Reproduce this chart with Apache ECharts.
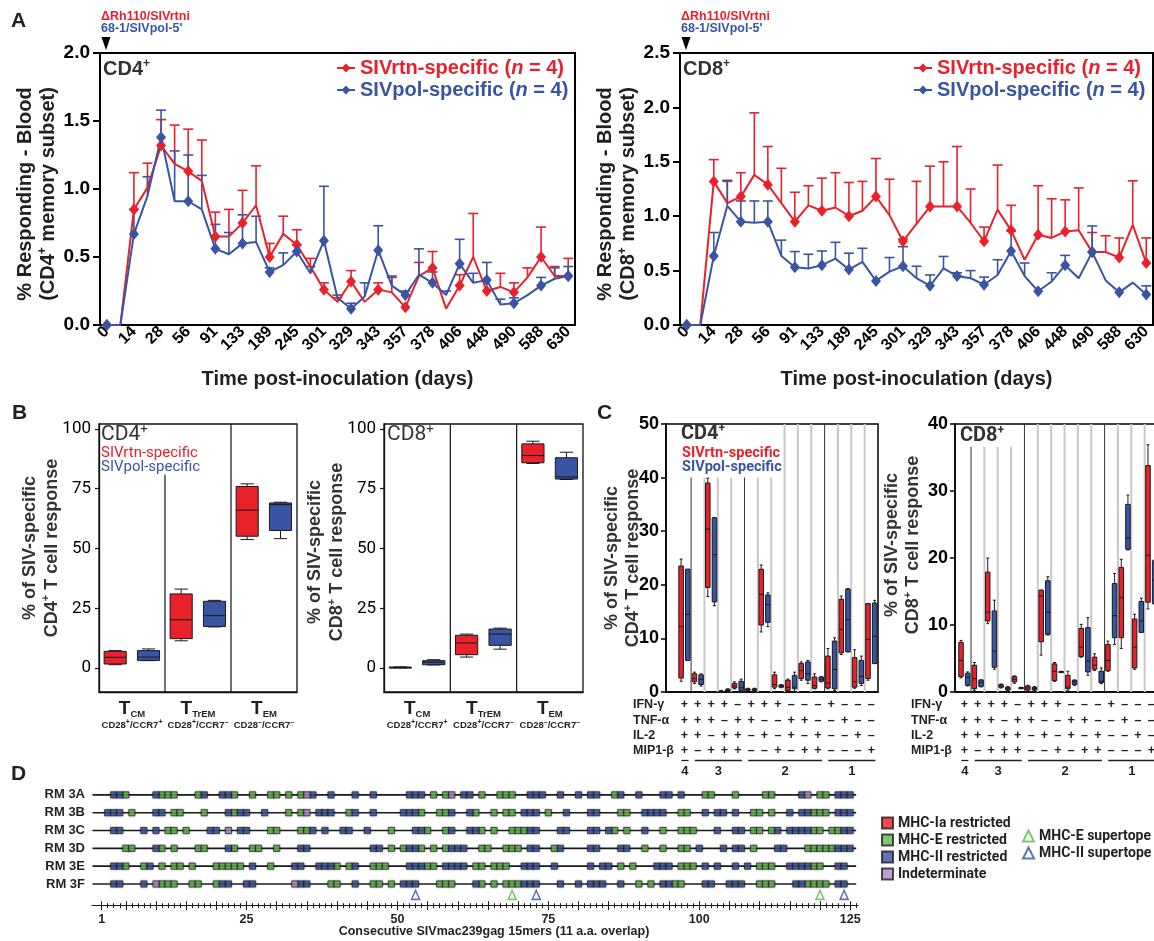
<!DOCTYPE html>
<html><head><meta charset="utf-8">
<script src="https://cdn.jsdelivr.net/npm/echarts@6/dist/echarts.min.js"></script>
<style>html,body{margin:0;padding:0;background:#fff}#c{width:1154px;height:941px}</style>
</head><body><div id="c"></div>
<script>
// ================= DATA =================
// Panel A
const daysA = ['0','7','14','21','28','42','56','70','91','112','133','161','189','217','245','273','301','315','329','336','343','350','357','364','378','392','406','427','448','469','490','539','588','609','630'];
const cd4Rtn   = [0,0,0.85,1.01,1.32,1.185,1.13,1.06,0.65,0.65,0.75,0.88,0.50,0.67,0.59,0.43,0.26,0.17,0.32,0.17,0.26,0.24,0.13,0.36,0.42,0.12,0.29,0.50,0.25,0.28,0.24,0.35,0.50,0.36,0.36];
const cd4RtnUp = [0,0,1.12,1.19,1.51,1.47,1.44,1.36,0.83,0.85,0.99,1.17,0.60,0.80,0.70,0.49,0.31,0.20,0.40,0.17,0.31,0.35,0.13,0.46,0.54,0.12,0.37,0.82,0.25,0.38,0.31,0.42,0.72,0.43,0.49];
const cd4Pol   = [0,0,0.67,0.95,1.38,0.91,0.91,0.85,0.56,0.52,0.60,0.61,0.39,0.44,0.54,0.38,0.62,0.20,0.12,0.21,0.55,0.29,0.22,0.37,0.31,0.22,0.45,0.31,0.33,0.15,0.16,0.22,0.29,0.34,0.36];
const cd4PolUp = [0,0,0.85,1.09,1.58,1.28,1.25,1.10,0.74,0.68,0.81,0.80,0.42,0.53,0.59,0.43,1.02,0.22,0.16,0.31,0.73,0.36,0.25,0.56,0.39,0.25,0.63,0.38,0.46,0.19,0.20,0.22,0.35,0.42,0.43];
const cd8Rtn   = [0,0,1.32,1.12,1.18,1.38,1.29,1.12,0.95,1.10,1.05,1.08,1.00,1.05,1.18,1.01,0.77,0.93,1.09,1.09,1.09,0.94,0.77,1.06,0.87,0.60,0.83,0.80,0.86,0.87,0.67,0.67,0.62,0.92,0.57];
const cd8RtnUp = [0,0,1.52,1.32,1.40,1.95,1.64,1.44,1.22,1.28,1.35,1.40,1.31,1.32,1.53,1.34,0.79,1.32,1.46,1.50,1.64,1.25,0.90,1.47,1.10,0.60,1.28,1.16,1.15,1.26,0.85,0.82,0.80,1.325,0.80];
const cd8Pol   = [0,0,0.635,1.095,0.95,0.94,0.95,0.635,0.53,0.52,0.55,0.61,0.51,0.58,0.405,0.49,0.54,0.43,0.36,0.52,0.45,0.43,0.37,0.46,0.68,0.45,0.31,0.40,0.55,0.43,0.67,0.41,0.30,0.39,0.28];
const cd8PolUp = [0,0,0.85,1.33,1.14,1.14,1.14,0.78,0.675,0.65,0.68,0.76,0.66,0.705,0.405,0.62,0.72,0.54,0.46,0.63,0.48,0.50,0.44,0.60,0.865,0.57,0.31,0.48,0.64,0.43,0.91,0.41,0.30,0.39,0.36];
const nAnimals = 4;

// Panel B  [low, q1, median, q3, high]
const subsetsB = ['CM','TrEM','EM'];
const phenoB = ['CD28+/CCR7+','CD28+/CCR7–','CD28–/CCR7–'];
const bTicks = [0,25,50,75,100];
const bCd4Rtn = [[1.4,1.7,4.5,7.0,7.3],[11.4,12.3,20.2,31,33],[53.7,55.1,66,75.9,77]];
const bCd4Pol = [[3.1,3.2,4.6,7.3,8.0],[17.2,17.4,21.9,27.9,28.3],[54.1,57.5,68.3,69,69.3]];
const bCd8Rtn = [[0.1,0.2,0.3,0.4,0.5],[4.6,5.6,10.5,13.7,14.2],[85.5,85.8,88.8,93.7,94.8]];
const bCd8Pol = [[1.3,1.4,2.4,3.1,3.5],[7.9,9.5,14.2,16.3,16.7],[78.8,79,79.9,87.9,90.2]];

// Panel C
const cytoNames = ['IFN-γ','TNF-α','IL-2','MIP1-β'];
const ifnRow = ['+','+','+','+','–','+','+','+','–','–','–','+','–','–','–'];
const tnfRow = ['+','+','+','–','+','+','–','–','+','+','–','–','+','–','–'];
const il2Row = ['+','+','–','+','+','–','+','–','+','–','+','–','–','+','–'];
const mipRow = ['+','–','+','+','+','–','–','+','–','+','+','–','–','–','+'];
const groupLabels = ['4','3','2','1'];
const groupFrom = [0,1,5,11];
const groupTo = [0,4,10,14];
const cCd4Rtn = [[2.0,2.6,12.2,23.5,24.8],[1.6,1.9,2.5,3.4,3.7],[17.8,19.5,30.4,39.0,39.9],[0,0,0.1,0.2,0.3],[0.6,0.75,1.1,1.6,1.9],[0.2,0.3,0.4,0.6,0.7],[11.2,12.5,18.2,22.9,23.7],[0.6,0.9,1.4,3.2,3.7],[0,0.3,0.9,2.2,2.4],[2.2,2.5,4.0,5.3,5.6],[0.6,0.7,1.2,2.8,3.4],[0.6,0.75,1.7,6.7,8.1],[7.0,7.3,11.7,17.3,17.9],[0.7,0.9,1.9,6.4,7.9],[2.2,2.5,9.8,16.5,16.5]];
const cCd4Pol = [[5.9,5.9,14.5,22.9,22.9],[1.1,1.4,2.4,3.2,3.4],[16.1,16.8,25.6,32.5,32.5],[0.1,0.1,0.3,0.5,0.6],[0.1,0.3,0.8,2.0,2.4],[0.2,0.3,0.4,0.6,0.7],[12.2,13.0,16.3,18.1,18.5],[0.8,0.9,1.1,1.3,1.4],[0.1,0.6,0.9,3.1,3.7],[1.6,2.2,3.4,5.6,5.9],[1.9,2.0,2.4,2.8,2.9],[0.3,0.6,4.2,9.5,10.1],[7.5,7.5,13.5,19.2,19.3],[1.2,1.6,2.9,5.9,6.7],[5.3,5.3,10.4,16.6,17.1]];
const cCd8Rtn = [[2.1,2.3,4.7,7.4,7.7],[0.25,0.5,2.0,4.0,4.4],[10.2,10.6,11.9,17.9,20.0],[0.6,0.7,0.9,1.1,1.2],[1.3,1.5,1.9,2.3,2.4],[0.2,0.3,0.6,0.9,1.0],[5.5,7.5,14.3,15.2,15.2],[1.6,1.7,3.1,4.2,4.4],[0.25,0.5,0.75,2.5,3.1],[5.2,5.3,6.7,9.5,10.1],[3.2,3.4,4.0,5.2,5.7],[3.1,3.2,4.7,7.1,7.6],[6.5,8.1,14.1,18.6,19.8],[3.4,3.6,6.7,10.9,11.6],[12.4,13.4,20.4,33.8,36.9]];
const cCd8Pol = [[0.9,1.0,2.2,2.8,3.0],[0.75,0.85,1.4,1.8,1.8],[3.4,3.7,6.1,12.1,13.7],[0.2,0.3,0.5,0.7,0.8],[0.5,0.55,0.6,0.65,0.7],[0.2,0.3,0.5,0.7,0.8],[8.5,8.6,11.9,16.6,17.2],[2.9,2.95,3.0,3.05,3.1],[1.0,1.1,1.5,1.75,1.8],[2.5,3.0,4.6,9.6,11.1],[1.25,1.4,1.6,3.1,3.6],[7.1,8.1,11.4,16.2,17.7],[21.2,21.3,23.0,28.0,29.4],[8.9,8.9,10.6,13.5,14.0],[13.1,13.2,16.7,19.6,19.7]];

// Panel D  (peptide numbers per row and restriction)
const rmRows = ['RM 3A','RM 3B','RM 3C','RM 3D','RM 3E','RM 3F'];
const RM3A_II = [3,4,10,18,21,22,36,39,43,46,52,53,54,61,62,72,73,74,77,80,82,83,87,90,94,95,97,117,123,124,125];
const RM3A_E = [5,11,12,13,17,23,26,29,30,32,34,56,58,64,67,68,69,86,101,102,106,111,112,120,121];
const RM3A_IND = [35,59,118];
const RM3B_II = [2,3,4,10,11,22,24,25,28,37,38,39,43,46,51,52,53,59,62,71,72,73,78,82,83,91,92,93,94,101,103,104,106,115,117,118,123,124,125];
const RM3B_E = [6,13,14,18,23,32,34,42,54,57,58,63,66,68,69,75,87,88,97,98,109,110,112,119,120,121];
const RM3B_IND = [35];
const RM3C_II = [3,4,8,10,19,20,24,25,36,38,41,42,45,53,54,59,62,63,72,73,77,78,82,83,85,91,103,106,107,113,115,116,117,118,124,125];
const RM3C_E = [12,13,15,29,30,34,35,49,55,58,64,66,69,70,71,86,88,94,97,98,99,109,110,112,119,120,122,123];
const RM3C_IND = [22];
const RM3D_II = [10,22,34,35,46,47,52,53,59,60,61,72,73,77,82,83,87,88,100,104,106,107,113,114,123,124,125];
const RM3D_E = [5,6,11,13,17,18,23,26,27,30,49,51,54,56,58,64,65,68,69,70,76,91,94,97,98,109,118,119,120,121,122];
const RM3D_IND = [];
const RM3E_II = [3,4,9,26,33,34,37,38,39,43,52,53,54,58,59,60,61,71,72,73,76,82,84,85,93,94,95,101,103,106,108,115,116,117,118,123,124];
const RM3E_E = [5,8,11,13,14,16,20,21,22,23,24,29,40,42,46,47,48,55,56,63,64,66,67,68,87,89,97,98,99,110,111,112,119,120];
const RM3E_IND = [];
const RM3F_II = [3,4,8,21,22,25,26,34,35,43,51,52,53,63,71,72,73,77,80,82,83,84,87,94,95,101,102,105,106,107,116,117,123,124];
const RM3F_E = [11,12,13,16,17,20,39,40,46,47,49,57,58,59,64,66,68,69,70,90,92,96,97,110,111,112,118,119,120,121];
const RM3F_IND = [10,33];
const superE = [69,120];
const superII = [53,73,124];
const dLabelTicks = [1,25,50,75,100,125];

// ================= STYLE =================
const RED = '#e8212b', BLUE = '#3a54a4';
const DGREEN = '#5cba47', DBLUE = '#3a52a2', DPURPLE = '#ae8ac6', DRED = '#ec1c24';
const INK = '#231f20';
const FA = "'Liberation Sans', Arial, Helvetica, sans-serif";
const FR = "Roboto, 'Liberation Sans', sans-serif";

// ================= HELPERS =================
function errRender(color) {
  return function (params, api) {
    const i = api.value(0), v = api.value(1), u = api.value(2);
    if (!(u > v + 0.005)) return null;
    const p = api.coord([i, v]), q = api.coord([i, u]);
    const st = {stroke: color, lineWidth: 1.6};
    return {type: 'group', children: [
      {type: 'line', shape: {x1: p[0], y1: p[1], x2: q[0], y2: q[1]}, style: st},
      {type: 'line', shape: {x1: q[0] - 5, y1: q[1], x2: q[0] + 5, y2: q[1]}, style: st}
    ]};
  };
}
function boxRender(color, off, wid, cap) {
  return function (params, api) {
    const xv = api.value(0);
    const unit = api.size([1, 0], [xv, 0])[0];
    const c = api.coord([xv, api.value(3)]);
    const cx = c[0] + off * unit, w = wid * unit, cw = cap * unit;
    const y = k => api.coord([xv, api.value(k)])[1];
    const lo = y(1), q1 = y(2), md = y(3), q3 = y(4), hi = y(5);
    const ls = {stroke: '#1a1a1a', lineWidth: 1};
    return {type: 'group', children: [
      {type: 'line', shape: {x1: cx, y1: lo, x2: cx, y2: hi}, style: ls},
      {type: 'line', shape: {x1: cx - cw / 2, y1: lo, x2: cx + cw / 2, y2: lo}, style: ls},
      {type: 'line', shape: {x1: cx - cw / 2, y1: hi, x2: cx + cw / 2, y2: hi}, style: ls},
      {type: 'rect', shape: {x: cx - w / 2, y: q3, width: w, height: Math.max(q1 - q3, 1)}, style: {fill: color, stroke: '#1a1a1a', lineWidth: 1}},
      {type: 'line', shape: {x1: cx - w / 2, y1: md, x2: cx + w / 2, y2: md}, style: ls}
    ]};
  };
}
function boxSeries(data, color, off, wid, cap, ai) {
  return {type: 'custom', name: 'box' + ai + color, xAxisIndex: ai, yAxisIndex: ai, clip: false, z: 4,
    data: data.map((b, i) => [i].concat(b)), encode: {x: 0, y: [1, 2, 3, 4, 5]},
    renderItem: boxRender(color, off, wid, cap)};
}
function aLine(name, data, color, ai) {
  return {type: 'line', name, xAxisIndex: ai, yAxisIndex: ai, data, symbol: 'diamond', symbolSize: [10, 12],
    lineStyle: {color, width: 2}, itemStyle: {color}, z: 5};
}
function aErr(vals, ups, color, ai) {
  return {type: 'custom', name: 'err' + ai + color, xAxisIndex: ai, yAxisIndex: ai, clip: false, z: 4,
    data: vals.map((v, i) => [i, v, ups[i]]), encode: {x: 0, y: [1, 2]}, renderItem: errRender(color)};
}
function supRich(fs, fill, ff, fw, lh) {
  const s = Math.round(fs * 0.62);
  return {a: {fontSize: fs, fill, color: fill, fontFamily: ff, fontWeight: fw, lineHeight: lh || fs + 2},
          s: {fontSize: s, fill, color: fill, fontFamily: ff, fontWeight: fw, verticalAlign: 'top', lineHeight: s}};
}
const G = [];
function T(x, y, text, o) {
  o = o || {};
  G.push({type: 'text', x, y, rotation: o.rot || 0, silent: true, z: 50,
    style: {text, fill: o.fill || INK, fontFamily: o.ff || FA, fontWeight: o.fw || 'bold', fontSize: o.fs || 12,
      fontStyle: o.fst || 'normal', align: o.al || 'left', verticalAlign: o.va || 'middle', rich: o.rich}});
}

// ================= GRAPHIC TEXT =================
T(11, 21.5, 'A', {fs: 21}); T(12, 413, 'B', {fs: 21}); T(597, 413, 'C', {fs: 21}); T(11, 774, 'D', {fs: 21});
[[101, 106], [681, 686]].forEach(([tx, px]) => {
  T(tx, 17, 'ΔRh110/SIVrtni', {fs: 12.5, fill: RED});
  T(tx, 29, "68-1/SIVpol-5'", {fs: 12.5, fill: BLUE});
  G.push({type: 'polygon', silent: true, shape: {points: [[px - 4.5, 37], [px + 4.5, 37], [px, 50]]}, style: {fill: '#000'}});
});
T(103, 69, '{a|CD4}{s|+}', {rich: supRich(20, '#333', FA, 'bold')});
T(683, 69, '{a|CD8}{s|+}', {rich: supRich(20, '#333', FA, 'bold')});
T(36.5, 194, '{a|% Responding - Blood}\n{a|(CD4}{s|+}{a| memory subset)}', {rot: Math.PI / 2, al: 'center', rich: supRich(20, INK, FA, 'bold', 23)});
T(616.5, 194, '{a|% Responding - Blood}\n{a|(CD8}{s|+}{a| memory subset)}', {rot: Math.PI / 2, al: 'center', rich: supRich(20, INK, FA, 'bold', 23)});
// B
T(101, 434.5, '{a|CD4}{s|+}', {rich: supRich(21, '#333', FR, 'normal')});
T(101, 453, 'SIVrtn-specific', {ff: FR, fw: 'normal', fs: 15, fill: RED});
T(101, 467, 'SIVpol-specific', {ff: FR, fw: 'normal', fs: 15, fill: BLUE});
T(387, 434.5, '{a|CD8}{s|+}', {rich: supRich(21, '#333', FR, 'normal')});
T(40.7, 548, '{a|% of SIV-specific}\n{a|CD4}{s|+}{a| T cell response}', {rot: Math.PI / 2, al: 'center', rich: supRich(18, '#333', FA, 'bold', 22)});
T(326.5, 552, '{a|% of SIV-specific}\n{a|CD8}{s|+}{a| T cell response}', {rot: Math.PI / 2, al: 'center', rich: supRich(18, '#333', FA, 'bold', 22)});
// C
T(681, 434, '{a|CD4}{s|+}', {rich: supRich(20, '#333', FR, 'bold')});
T(682, 453, 'SIVrtn-specific', {ff: FR, fs: 14.5, fill: RED});
T(682, 467, 'SIVpol-specific', {ff: FR, fs: 14.5, fill: BLUE});
T(960, 436, '{a|CD8}{s|+}', {rich: supRich(20, '#333', FR, 'bold')});
T(622.5, 558, '{a|% of SIV-specific}\n{a|CD4}{s|+}{a| T cell response}', {rot: Math.PI / 2, al: 'center', rich: supRich(18, '#333', FA, 'bold', 21.6)});
T(902.5, 545, '{a|% of SIV-specific}\n{a|CD8}{s|+}{a| T cell response}', {rot: Math.PI / 2, al: 'center', rich: supRich(18, '#333', FA, 'bold', 21.6)});
const tableY = [705, 720.5, 736, 751];
cytoNames.forEach((n, r) => { T(633, tableY[r], n, {fs: 12.5}); T(911, tableY[r], n, {fs: 12.5}); });
// D
T(494, 932, 'Consecutive SIVmac239gag 15mers (11 a.a. overlap)', {fs: 12.5, al: 'center'});

// ================= SERIES =================
const series = [];
// A
series.push(aErr(cd4Rtn, cd4RtnUp, RED, 0), aErr(cd4Pol, cd4PolUp, BLUE, 0));
series.push(aLine('SIVrtn-specific', cd4Rtn, RED, 0), aLine('SIVpol-specific', cd4Pol, BLUE, 0));
series.push(aErr(cd8Rtn, cd8RtnUp, RED, 1), aErr(cd8Pol, cd8PolUp, BLUE, 1));
series.push(aLine('SIVrtn-specific', cd8Rtn, RED, 1), aLine('SIVpol-specific', cd8Pol, BLUE, 1));
// B separators
function bSep(ai, tops) {
  return {type: 'custom', name: 'sep' + ai, xAxisIndex: ai, yAxisIndex: ai, clip: false, z: 2,
    data: tops.map((t, i) => [i, t]), encode: {x: 0, y: 1},
    renderItem: (p, api) => {
      const i = api.value(0), band = api.size([1, 0])[0];
      const a = api.coord([i, api.value(1)]), b = api.coord([i, -10]);
      const x = a[0] + band / 2;
      return {type: 'line', shape: {x1: x, y1: a[1], x2: x, y2: b[1]}, style: {stroke: '#111', lineWidth: 1.2}};
    }};
}
series.push(bSep(2, [80.8, 102]), bSep(3, [102, 102]));
series.push(boxSeries(bCd4Rtn, RED, -0.255, 0.335, 0.2, 2), boxSeries(bCd4Pol, BLUE, 0.25, 0.335, 0.2, 2));
series.push(boxSeries(bCd8Rtn, RED, -0.255, 0.335, 0.2, 3), boxSeries(bCd8Pol, BLUE, 0.25, 0.335, 0.2, 3));
// C separators
const darkAfter = groupTo.slice(0, 3);
function cSep(ai, shortUpTo, shortTop, fullTop) {
  const d = [];
  for (let k = 0; k < ifnRow.length - 1; k++) d.push([k + 0.5, k <= shortUpTo ? shortTop : fullTop, darkAfter.indexOf(k) >= 0 ? 1 : 0]);
  return {type: 'custom', name: 'csep' + ai, xAxisIndex: ai, yAxisIndex: ai, clip: false, z: 2,
    data: d, encode: {x: 0, y: 1},
    renderItem: (p, api) => {
      const a = api.coord([api.value(0), api.value(1)]), b = api.coord([api.value(0), 0]);
      const dark = api.value(2) === 1;
      return {type: 'line', shape: {x1: a[0], y1: a[1], x2: b[0], y2: b[1]},
        style: {stroke: dark ? '#333' : '#c8c8c8', lineWidth: dark ? 1 : 2}};
    }};
}
series.push(cSep(4, 6, 40, 50), cSep(5, 3, 36.6, 40));
series.push(boxSeries(cCd4Rtn, RED, -0.25, 0.34, 0.22, 4), boxSeries(cCd4Pol, BLUE, 0.25, 0.34, 0.22, 4));
series.push(boxSeries(cCd8Rtn, RED, -0.25, 0.34, 0.22, 5), boxSeries(cCd8Pol, BLUE, 0.25, 0.34, 0.22, 5));
const rows = [ifnRow, tnfRow, il2Row, mipRow];
function cTable(ai) {
  return {type: 'custom', name: 'tab' + ai, xAxisIndex: ai, yAxisIndex: ai, clip: false, z: 6,
    data: ifnRow.map((_, i) => [i, 0]), encode: {x: 0, y: 1},
    renderItem: (p, api) => {
      const i = api.value(0), x = api.coord([i, 0])[0];
      return {type: 'group', children: rows.map((r, k) => ({type: 'text', x, y: tableY[k],
        style: {text: r[i], fill: INK, fontFamily: FA, fontWeight: 'bold', fontSize: 12.5, align: 'center', verticalAlign: 'middle'}}))};
    }};
}
function cGroups(ai) {
  return {type: 'custom', name: 'grp' + ai, xAxisIndex: ai, yAxisIndex: ai, clip: false, z: 6,
    data: groupLabels.map((g, gi) => [groupFrom[gi], groupTo[gi], gi]), encode: {x: [0, 1]},
    renderItem: (p, api) => {
      const a = api.coord([api.value(0), 0])[0] - 3, b = api.coord([api.value(1), 0])[0] + 4;
      return {type: 'group', children: [
        {type: 'line', shape: {x1: a, y1: 760.5, x2: b, y2: 760.5}, style: {stroke: INK, lineWidth: 1.3}},
        {type: 'text', x: (a + b) / 2, y: 771, style: {text: groupLabels[api.value(2)], fill: INK, fontFamily: FA, fontWeight: 'bold', fontSize: 13, align: 'center', verticalAlign: 'middle'}}
      ]};
    }};
}
series.push(cTable(4), cTable(5), cGroups(4), cGroups(5));
// D
series.push({type: 'custom', name: 'rowlines', xAxisIndex: 6, yAxisIndex: 6, clip: false, z: 1,
  data: rmRows.map((_, r) => [0, r]), encode: {x: 0, y: 1},
  renderItem: (p, api) => {
    const r = api.value(1), a = api.coord([-0.52, r]), b = api.coord([126.0, r]);
    return {type: 'line', shape: {x1: a[0], y1: a[1], x2: b[0], y2: b[1]}, style: {stroke: '#1a1a1a', lineWidth: 1.6}};
  }});
function pts(lists) { const out = []; lists.forEach((arr, r) => arr.forEach(pn => out.push([pn, r]))); return out; }
const sqStyle = c => ({color: c, borderColor: '#1e1e1e', borderWidth: 0.8, shadowBlur: 2, shadowColor: 'rgba(0,0,0,0.45)'});
function sq(name, data, c) { return {type: 'scatter', name, xAxisIndex: 6, yAxisIndex: 6, data, symbol: 'rect', symbolSize: 6.2, itemStyle: sqStyle(c), z: 4}; }
series.push(sq('MHC-Ia restricted', [], DRED));
series.push(sq('MHC-E restricted', pts([RM3A_E, RM3B_E, RM3C_E, RM3D_E, RM3E_E, RM3F_E]), DGREEN));
series.push(sq('MHC-II restricted', pts([RM3A_II, RM3B_II, RM3C_II, RM3D_II, RM3E_II, RM3F_II]), DBLUE));
series.push(sq('Indeterminate', pts([RM3A_IND, RM3B_IND, RM3C_IND, RM3D_IND, RM3E_IND, RM3F_IND]), DPURPLE));
function tri(name, arr, c) {
  return {type: 'scatter', name, xAxisIndex: 6, yAxisIndex: 6, data: arr.map(pn => [pn, 5]), symbol: 'triangle',
    symbolSize: [8, 9], symbolOffset: [0, 11], itemStyle: {color: '#fff', borderColor: c, borderWidth: 1.6}, z: 4};
}
series.push(tri('MHC-E supertope', superE, DGREEN), tri('MHC-II supertope', superII, DBLUE));

// ================= AXES =================
const nameStyle = {fontSize: 20, fontWeight: 'bold', color: INK, fontFamily: FA};
function aX(gi) {
  return {gridIndex: gi, type: 'category', data: daysA, boundaryGap: true,
    axisLine: {onZero: false, lineStyle: {color: '#000', width: 2}},
    axisTick: {alignWithLabel: true, interval: 0, length: 5, lineStyle: {color: '#000', width: 1.5}},
    axisLabel: {interval: 1, rotate: 45, fontSize: 16, fontWeight: 'bold', color: '#000', fontFamily: FA, margin: 4},
    splitLine: {show: false}, name: 'Time post-inoculation (days)', nameLocation: 'middle', nameGap: 44, nameTextStyle: nameStyle};
}
function aY(gi, max) {
  return {gridIndex: gi, type: 'value', min: 0, max, interval: 0.5,
    axisLine: {show: true, onZero: false, lineStyle: {color: '#000', width: 2}},
    axisTick: {show: true, length: 7, lineStyle: {color: '#000', width: 2}},
    axisLabel: {formatter: v => v.toFixed(1), fontSize: 19, fontWeight: 'bold', color: '#000', fontFamily: FA, margin: 10},
    splitLine: {show: false}};
}
const bRich = {
  t: {fontSize: 19, fontWeight: 'bold', fontFamily: FA, color: INK, lineHeight: 20},
  s: {fontSize: 9.5, fontWeight: 'bold', fontFamily: FA, color: INK, verticalAlign: 'bottom', lineHeight: 10},
  ps: {fontSize: 7, fontWeight: 'bold', fontFamily: FA, color: INK, verticalAlign: 'top', lineHeight: 7}
};
function bX(gi) {
  return {gridIndex: gi, type: 'category', data: subsetsB,
    axisLine: {onZero: false, lineStyle: {color: '#111', width: 1.3}},
    axisTick: {alignWithLabel: true, length: 5, lineStyle: {color: '#111', width: 1.2}},
    axisLabel: {interval: 0, margin: 7, color: INK, fontSize: 9.5, fontWeight: 'bold', fontFamily: FA, lineHeight: 13, rich: bRich,
      formatter: (v, i) => '{t|T}{s|' + v + '}\n' + phenoB[i].replace(/([+–])/g, '{ps|$1}')},
    splitLine: {show: false}};
}
function bY(gi) {
  return {gridIndex: gi, type: 'value', min: -10, max: 102,
    axisLine: {show: true, onZero: false, lineStyle: {color: '#111', width: 1.3}},
    axisTick: {show: true, length: 4, customValues: bTicks, lineStyle: {color: '#111', width: 1.2}},
    axisLabel: {customValues: bTicks, fontSize: 17, fontFamily: FR, color: '#000', margin: 8},
    splitLine: {show: false}};
}
function cX(gi, min) {
  return {gridIndex: gi, type: 'value', min, max: 14.5,
    axisLine: {onZero: false, lineStyle: {color: '#000', width: 1.5}},
    axisTick: {show: false}, axisLabel: {show: false}, splitLine: {show: false}};
}
function cY(gi, max) {
  return {gridIndex: gi, type: 'value', min: 0, max, interval: 10,
    axisLine: {show: true, onZero: false, lineStyle: {color: '#000', width: 1.5}},
    axisTick: {show: true, length: 5, lineStyle: {color: '#000', width: 1.5}},
    axisLabel: {fontSize: 18, fontWeight: 'bold', color: '#000', fontFamily: FA, margin: 7},
    splitLine: {show: false}};
}
const minorT = [], majorT = [1];
for (let i = 1; i <= 126; i++) minorT.push(i);
for (let i = 5; i <= 125; i += 5) majorT.push(i);
function dX(first, inside, vals, len) {
  return {gridIndex: 6, type: 'value', min: -0.6, max: 126.3, position: 'bottom',
    axisLine: {show: first, onZero: false, lineStyle: {color: '#1a1a1a', width: 1.2}},
    axisTick: {show: true, customValues: vals, inside, length: len, lineStyle: {color: '#1a1a1a', width: 1}},
    axisLabel: first ? {customValues: dLabelTicks, fontSize: 12.5, fontWeight: 'bold', color: INK, fontFamily: FA, margin: 7} : {show: false},
    splitLine: {show: false}};
}

const gridBase = {containLabel: false, outerBoundsMode: 'none'};
const option = {
  animation: false,
  backgroundColor: '#fff',
  textStyle: {fontFamily: FA},
  grid: [
    Object.assign({left: 100, top: 53, width: 475, height: 272, show: true, borderColor: '#000', borderWidth: 2}, gridBase),
    Object.assign({left: 680, top: 53, width: 473, height: 272, show: true, borderColor: '#000', borderWidth: 2}, gridBase),
    Object.assign({left: 99, top: 424, width: 198, height: 268, show: true, borderColor: '#111', borderWidth: 1.3}, gridBase),
    Object.assign({left: 384, top: 424, width: 199, height: 268, show: true, borderColor: '#111', borderWidth: 1.3}, gridBase),
    Object.assign({left: 666, top: 424, width: 212, height: 268, show: true, borderColor: '#000', borderWidth: 1.5}, gridBase),
    Object.assign({left: 955, top: 424, width: 203, height: 268, show: true, borderColor: '#000', borderWidth: 1.5}, gridBase),
    Object.assign({left: 92, top: 786, width: 766, height: 119.7}, gridBase)
  ],
  xAxis: [aX(0), aX(1), bX(2), bX(3), cX(4, -1.38), cX(5, -0.7),
    dX(true, false, minorT, 2.5), dX(false, true, minorT, 2.5), dX(false, false, majorT, 4.5), dX(false, true, majorT, 4.5)],
  yAxis: [aY(0, 2), aY(1, 2.5), bY(2), bY(3), cY(4, 50), cY(5, 40),
    {gridIndex: 6, type: 'value', inverse: true, min: -0.5, max: 6.22,
     axisLine: {show: false, onZero: false}, axisTick: {show: false}, splitLine: {show: false},
     axisLabel: {customValues: [0, 1, 2, 3, 4, 5], formatter: v => rmRows[v] || '', fontSize: 13, fontWeight: 'bold', color: INK, fontFamily: FA, margin: 7}}],
  legend: [0, 1].map(k => ({
    left: k ? 913 : 336, top: 57, orient: 'vertical', align: 'left', padding: 0, itemGap: 0, itemWidth: 18, itemHeight: 11,
    selectedMode: false, data: ['SIVrtn-specific', 'SIVpol-specific'],
    formatter: nm => nm.indexOf('rtn') >= 0 ? '{r|SIVrtn-specific (}{ri|n}{r| = ' + nAnimals + ')}' : '{b|SIVpol-specific (}{bi|n}{b| = ' + nAnimals + ')}',
    textStyle: {fontSize: 20, fontWeight: 'bold', fontFamily: FA, lineHeight: 22, rich: {
      r: {color: RED, fontSize: 20, fontWeight: 'bold', fontFamily: FA, lineHeight: 22},
      ri: {color: RED, fontSize: 20, fontWeight: 'bold', fontStyle: 'italic', fontFamily: FA, lineHeight: 22},
      b: {color: BLUE, fontSize: 20, fontWeight: 'bold', fontFamily: FA, lineHeight: 22},
      bi: {color: BLUE, fontSize: 20, fontWeight: 'bold', fontStyle: 'italic', fontFamily: FA, lineHeight: 22}}}
  })).concat([
    {left: 881, top: 816, orient: 'vertical', align: 'left', padding: 0, itemGap: 3, itemWidth: 11, itemHeight: 11, selectedMode: false,
     data: ['MHC-Ia restricted', 'MHC-E restricted', 'MHC-II restricted', 'Indeterminate'],
     textStyle: {fontSize: 14, fontWeight: 'bold', fontFamily: FR, color: INK, lineHeight: 12}},
    {left: 1022, top: 829, orient: 'vertical', align: 'left', padding: 0, itemGap: 3, itemWidth: 11, itemHeight: 11, selectedMode: false,
     data: ['MHC-E supertope', 'MHC-II supertope'],
     textStyle: {fontSize: 14, fontWeight: 'bold', fontFamily: FR, color: INK, lineHeight: 12}}
  ]),
  series,
  graphic: {elements: G}
};
const chart = echarts.init(document.getElementById('c'), null, {renderer: 'canvas', width: 1154, height: 941});
chart.setOption(option);
</script></body></html>
